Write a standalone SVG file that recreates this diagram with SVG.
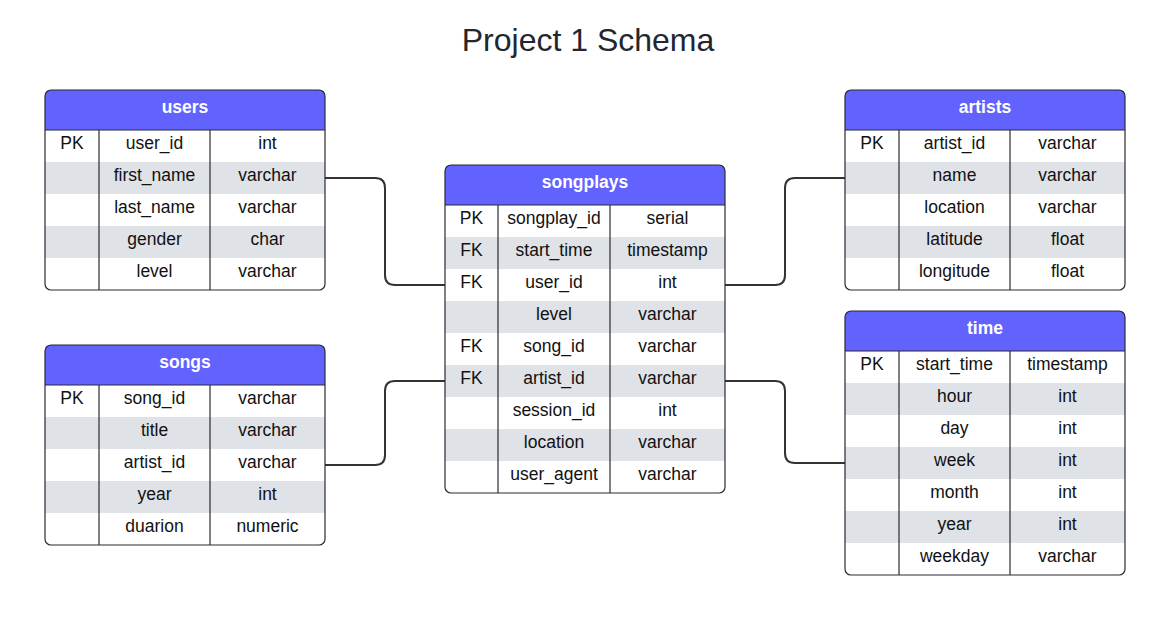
<svg xmlns="http://www.w3.org/2000/svg" width="1164" height="621" viewBox="0 0 1164 621">
<style>
.hdr{fill:#6262ff}
.alt{fill:#dfe2e7}
.frame{fill:none;stroke:#2b2b33;stroke-width:1.2}
.div{stroke:#2b2b33;stroke-width:1.2}
.ht{font-family:"Liberation Sans",Arial,sans-serif;font-size:17.5px;font-weight:bold;fill:#ffffff;text-anchor:middle}
.t{font-family:"Liberation Sans",Arial,sans-serif;font-size:17.5px;fill:#111111;text-anchor:middle}
.title{font-family:"Liberation Sans",Arial,sans-serif;font-size:32px;fill:#23262e;text-anchor:middle}
.con{fill:none;stroke:#333333;stroke-width:2}
</style>
<rect width="1164" height="621" fill="#ffffff"/>
<text class="title" x="588" y="51">Project 1 Schema</text>

<g id="connectors">
<path class="con" d="M325,178 H375 Q385,178 385,188 V275 Q385,285 395,285 H445"/>
<path class="con" d="M325,465 H375 Q385,465 385,455 V391 Q385,381 395,381 H445"/>
<path class="con" d="M725,285 H775 Q785,285 785,275 V188 Q785,178 795,178 H845"/>
<path class="con" d="M725,381 H775 Q785,381 785,391 V453 Q785,463 795,463 H845"/>
</g>

<g id="users">
<path class="hdr" d="M45,130 V96 Q45,90 51,90 H319 Q325,90 325,96 V130 Z"/>
<rect class="alt" x="45" y="162" width="280" height="32"/>
<rect class="alt" x="45" y="226" width="280" height="32"/>
<line class="div" x1="45" y1="130" x2="325" y2="130"/>
<line class="div" x1="99" y1="130" x2="99" y2="290"/>
<line class="div" x1="210" y1="130" x2="210" y2="290"/>
<rect class="frame" x="45" y="90" width="280" height="200" rx="6"/>
<text class="ht" x="185" y="113">users</text>
<text class="t" x="72" y="149">PK</text><text class="t" x="154.5" y="149">user_id</text><text class="t" x="267.5" y="149">int</text>
<text class="t" x="154.5" y="181">first_name</text><text class="t" x="267.5" y="181">varchar</text>
<text class="t" x="154.5" y="213">last_name</text><text class="t" x="267.5" y="213">varchar</text>
<text class="t" x="154.5" y="245">gender</text><text class="t" x="267.5" y="245">char</text>
<text class="t" x="154.5" y="277">level</text><text class="t" x="267.5" y="277">varchar</text>
</g>

<g id="songs">
<path class="hdr" d="M45,385 V351 Q45,345 51,345 H319 Q325,345 325,351 V385 Z"/>
<rect class="alt" x="45" y="417" width="280" height="32"/>
<rect class="alt" x="45" y="481" width="280" height="32"/>
<line class="div" x1="45" y1="385" x2="325" y2="385"/>
<line class="div" x1="99" y1="385" x2="99" y2="545"/>
<line class="div" x1="210" y1="385" x2="210" y2="545"/>
<rect class="frame" x="45" y="345" width="280" height="200" rx="6"/>
<text class="ht" x="185" y="368">songs</text>
<text class="t" x="72" y="404">PK</text><text class="t" x="154.5" y="404">song_id</text><text class="t" x="267.5" y="404">varchar</text>
<text class="t" x="154.5" y="436">title</text><text class="t" x="267.5" y="436">varchar</text>
<text class="t" x="154.5" y="468">artist_id</text><text class="t" x="267.5" y="468">varchar</text>
<text class="t" x="154.5" y="500">year</text><text class="t" x="267.5" y="500">int</text>
<text class="t" x="154.5" y="532">duarion</text><text class="t" x="267.5" y="532">numeric</text>
</g>

<g id="songplays">
<path class="hdr" d="M445,205 V171 Q445,165 451,165 H719 Q725,165 725,171 V205 Z"/>
<rect class="alt" x="445" y="237" width="280" height="32"/>
<rect class="alt" x="445" y="301" width="280" height="32"/>
<rect class="alt" x="445" y="365" width="280" height="32"/>
<rect class="alt" x="445" y="429" width="280" height="32"/>
<line class="div" x1="445" y1="205" x2="725" y2="205"/>
<line class="div" x1="498" y1="205" x2="498" y2="493"/>
<line class="div" x1="610" y1="205" x2="610" y2="493"/>
<rect class="frame" x="445" y="165" width="280" height="328" rx="6"/>
<text class="ht" x="585" y="188">songplays</text>
<text class="t" x="471.5" y="224">PK</text><text class="t" x="554" y="224">songplay_id</text><text class="t" x="667.5" y="224">serial</text>
<text class="t" x="471.5" y="256">FK</text><text class="t" x="554" y="256">start_time</text><text class="t" x="667.5" y="256">timestamp</text>
<text class="t" x="471.5" y="288">FK</text><text class="t" x="554" y="288">user_id</text><text class="t" x="667.5" y="288">int</text>
<text class="t" x="554" y="320">level</text><text class="t" x="667.5" y="320">varchar</text>
<text class="t" x="471.5" y="352">FK</text><text class="t" x="554" y="352">song_id</text><text class="t" x="667.5" y="352">varchar</text>
<text class="t" x="471.5" y="384">FK</text><text class="t" x="554" y="384">artist_id</text><text class="t" x="667.5" y="384">varchar</text>
<text class="t" x="554" y="416">session_id</text><text class="t" x="667.5" y="416">int</text>
<text class="t" x="554" y="448">location</text><text class="t" x="667.5" y="448">varchar</text>
<text class="t" x="554" y="480">user_agent</text><text class="t" x="667.5" y="480">varchar</text>
</g>

<g id="artists">
<path class="hdr" d="M845,130 V96 Q845,90 851,90 H1119 Q1125,90 1125,96 V130 Z"/>
<rect class="alt" x="845" y="162" width="280" height="32"/>
<rect class="alt" x="845" y="226" width="280" height="32"/>
<line class="div" x1="845" y1="130" x2="1125" y2="130"/>
<line class="div" x1="899" y1="130" x2="899" y2="290"/>
<line class="div" x1="1010" y1="130" x2="1010" y2="290"/>
<rect class="frame" x="845" y="90" width="280" height="200" rx="6"/>
<text class="ht" x="985" y="113">artists</text>
<text class="t" x="872" y="149">PK</text><text class="t" x="954.5" y="149">artist_id</text><text class="t" x="1067.5" y="149">varchar</text>
<text class="t" x="954.5" y="181">name</text><text class="t" x="1067.5" y="181">varchar</text>
<text class="t" x="954.5" y="213">location</text><text class="t" x="1067.5" y="213">varchar</text>
<text class="t" x="954.5" y="245">latitude</text><text class="t" x="1067.5" y="245">float</text>
<text class="t" x="954.5" y="277">longitude</text><text class="t" x="1067.5" y="277">float</text>
</g>

<g id="time">
<path class="hdr" d="M845,351 V317 Q845,311 851,311 H1119 Q1125,311 1125,317 V351 Z"/>
<rect class="alt" x="845" y="383" width="280" height="32"/>
<rect class="alt" x="845" y="447" width="280" height="32"/>
<rect class="alt" x="845" y="511" width="280" height="32"/>
<line class="div" x1="845" y1="351" x2="1125" y2="351"/>
<line class="div" x1="899" y1="351" x2="899" y2="575"/>
<line class="div" x1="1010" y1="351" x2="1010" y2="575"/>
<rect class="frame" x="845" y="311" width="280" height="264" rx="6"/>
<text class="ht" x="985" y="334">time</text>
<text class="t" x="872" y="370">PK</text><text class="t" x="954.5" y="370">start_time</text><text class="t" x="1067.5" y="370">timestamp</text>
<text class="t" x="954.5" y="402">hour</text><text class="t" x="1067.5" y="402">int</text>
<text class="t" x="954.5" y="434">day</text><text class="t" x="1067.5" y="434">int</text>
<text class="t" x="954.5" y="466">week</text><text class="t" x="1067.5" y="466">int</text>
<text class="t" x="954.5" y="498">month</text><text class="t" x="1067.5" y="498">int</text>
<text class="t" x="954.5" y="530">year</text><text class="t" x="1067.5" y="530">int</text>
<text class="t" x="954.5" y="562">weekday</text><text class="t" x="1067.5" y="562">varchar</text>
</g>
</svg>
